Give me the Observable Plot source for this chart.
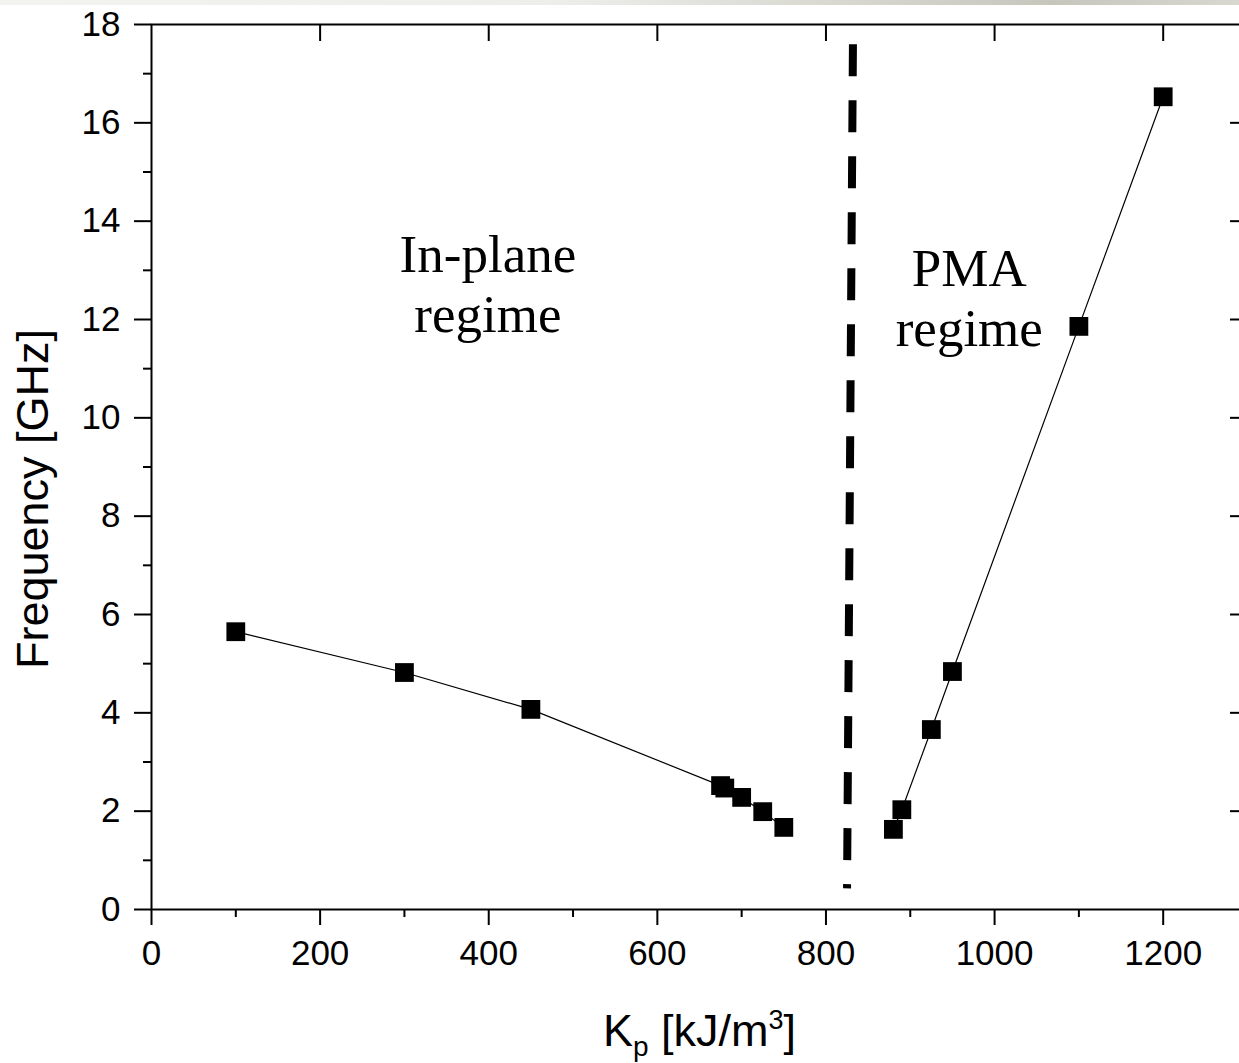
<!DOCTYPE html>
<html><head><meta charset="utf-8">
<script src="https://cdn.jsdelivr.net/npm/d3@7"></script>
<script src="https://cdn.jsdelivr.net/npm/@observablehq/plot@0.6"></script>
<style>
html,body{margin:0;padding:0;background:#fff;overflow:hidden;width:1239px;height:1063px;}
#chart{position:absolute;left:0;top:0;width:1250px;}
#chart svg{max-width:none !important;}
#strip{position:absolute;left:0;top:0;width:1239px;height:5px;background:linear-gradient(to right,#f3f3f0 0%,#ededea 45%,#d6d6ce 70%,#c6c6bd 85%,#d8d8d0 100%);}
</style></head><body>
<div id="chart"></div><div id="strip"></div>
<script>
// In-plane regime series
const inPlaneK = [100, 300, 450, 675, 680, 700, 725, 750];
const inPlaneF = [5.65, 4.82, 4.07, 2.52, 2.47, 2.28, 1.99, 1.67];
// PMA regime series
const pmaK = [880, 890, 925, 950, 1100, 1200];
const pmaF = [1.63, 2.03, 3.66, 4.84, 11.86, 16.53];
// boundary (dashed) line end points
const boundaryK = [832, 825];
const boundaryF = [17.6, 0.43];
// ticks
const xMajor = [0, 200, 400, 600, 800, 1000, 1200];
const xMinor = [100, 300, 500, 700, 900, 1100];
const yMajor = [0, 2, 4, 6, 8, 10, 12, 14, 16, 18];
const yMinor = [1, 3, 5, 7, 9, 11, 13, 15, 17];
// texts
const regimeLabels = ["In-plane\nregime", "PMA\nregime"];
const yLabel = "Frequency [GHz]";
const xLabelParts = ["K", "p", " [kJ/m", "3", "]"];

const inPlane = inPlaneK.map((k, i) => ({k, f: inPlaneF[i]}));
const pma = pmaK.map((k, i) => ({k, f: pmaF[i]}));
const boundary = boundaryK.map((k, i) => ({k, f: boundaryF[i]}));
const xLabel = xLabelParts.join("");

const W = 1250, H = 1063, ML = 151, MT = 24, MB = 154, MR = 3;
const plotW = W - ML - MR, plotH = H - MT - MB;

const chart = Plot.plot({
  width: W, height: H,
  marginLeft: ML, marginTop: MT, marginBottom: MB, marginRight: MR,
  style: {fontFamily: "'Liberation Sans', Arial, sans-serif", background: "white", color: "black", overflow: "visible", maxWidth: "none"},
  x: {domain: [0, 1300]},
  y: {domain: [0, 18]},
  marks: [
    Plot.axisY(yMajor, {anchor: "left", tickSize: 17, tickPadding: 14, fontSize: 35, strokeWidth: 2, label: null, tickFormat: d => String(d)}),
    Plot.axisY(yMinor, {anchor: "left", tickSize: 8, strokeWidth: 2, label: null, tickFormat: () => ""}),
    Plot.axisX(xMajor, {anchor: "bottom", tickSize: 16, tickPadding: 15, fontSize: 35, strokeWidth: 2, label: null, tickFormat: d => String(d)}),
    Plot.axisX(xMinor, {anchor: "bottom", tickSize: 8, strokeWidth: 2, label: null, tickFormat: () => ""}),
    Plot.tickX(xMajor.filter(d => d > 0), {x: d => d, insetBottom: plotH - 17, strokeWidth: 2, stroke: "black"}),
    Plot.tickY(yMajor.filter(d => d > 0 && d < 18), {y: d => d, insetLeft: plotW - 17, strokeWidth: 2, stroke: "black"}),
    Plot.frame({stroke: "black", strokeWidth: 2}),
    Plot.line(inPlane, {x: "k", y: "f", stroke: "black", strokeWidth: 1.2}),
    Plot.line(pma, {x: "k", y: "f", stroke: "black", strokeWidth: 1.2}),
    Plot.dot([...inPlane, ...pma], {x: "k", y: "f", symbol: "square", r: 10.6, fill: "black"}),
    Plot.line(boundary, {x: "k", y: "f", stroke: "black", strokeWidth: 8, strokeDasharray: "32,24", strokeLinecap: "butt"}),
    Plot.text(regimeLabels, {x: [399, 970], y: [11.74, 11.47], text: d => d, lineAnchor: "bottom", lineHeight: 1.13,
      textAnchor: "middle", fontSize: 53, fontFamily: "'Liberation Serif', 'Times New Roman', serif", fill: "black"}),
    Plot.text([yLabel], {frameAnchor: "left", rotate: -90, dx: -104, dy: 32, textAnchor: "middle", lineAnchor: "bottom", text: d => d, fontSize: 45, fill: "black"}),
    Plot.text([xLabel], {frameAnchor: "bottom", dy: 136, textAnchor: "middle", lineAnchor: "bottom", text: d => d, fontSize: 45, fill: "black"})
  ]
});
chart.style.maxWidth = "none";
document.getElementById("chart").appendChild(chart);

d3.select(chart).selectAll("text").filter(function () { return this.textContent === xLabel; }).each(function () {
  const t = d3.select(this);
  t.text("");
  t.append("tspan").text(xLabelParts[0]);
  t.append("tspan").attr("font-size", 28).attr("dy", 10).text(xLabelParts[1]);
  t.append("tspan").attr("dy", -10).text(xLabelParts[2]);
  t.append("tspan").attr("font-size", 27).attr("dy", -17).text(xLabelParts[3]);
  t.append("tspan").attr("dy", 17).text(xLabelParts[4]);
});
</script>
</body></html>
